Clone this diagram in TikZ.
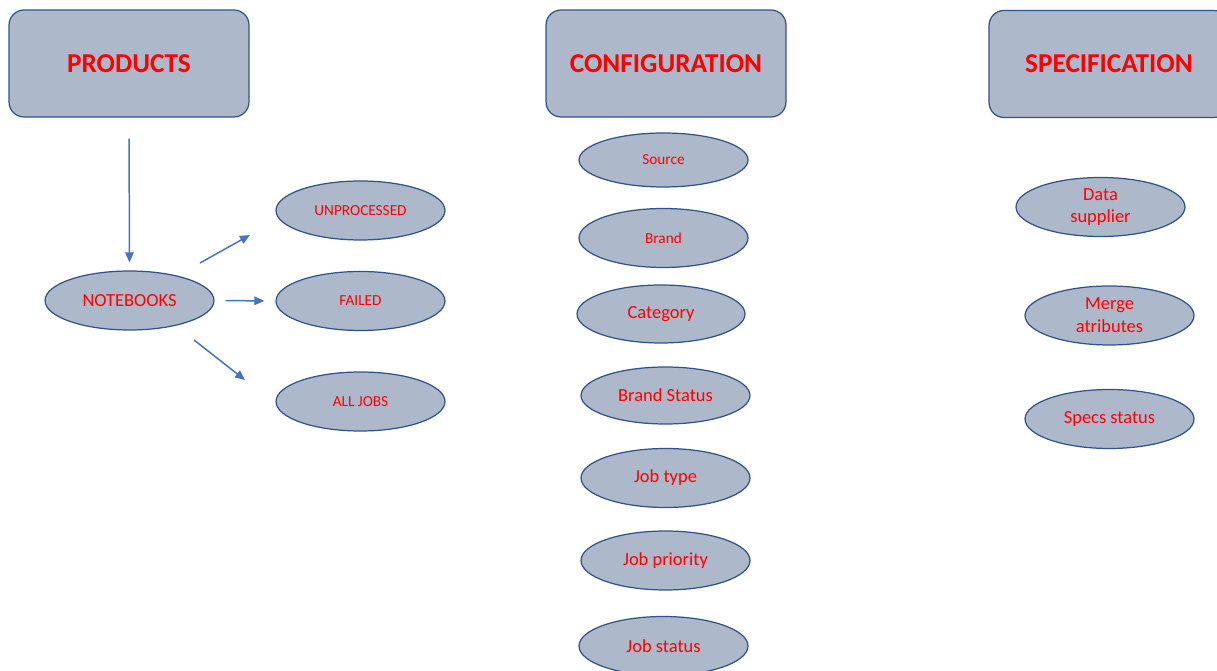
\documentclass[tikz,border=0pt]{standalone}
\usepackage{fontspec}
\setmainfont{Carlito}
\usetikzlibrary{arrows.meta,shapes.geometric}
\usepackage{xcolor}
\definecolor{shapefill}{RGB}{173,185,202}
\definecolor{shapeline}{RGB}{47,82,143}
\definecolor{arrowblue}{RGB}{68,114,196}

\begin{document}
\begin{tikzpicture}[x=0.02cm,y=-0.02cm,
	headbox/.style={draw=shapeline,fill=shapefill,line width=0.7pt,rounded corners=0.3cm,minimum width=4.8cm,minimum height=2.14cm,inner sep=0pt,text=red,font=\fontsize{15.5}{18}\selectfont\bfseries},
	bigoval/.style={ellipse,draw=shapeline,fill=shapefill,line width=0.7pt,minimum width=3.38cm,minimum height=1.18cm,inner sep=0pt,text=red,font=\fontsize{10.5}{13}\selectfont,align=center},
	smalloval/.style={bigoval,font=\fontsize{8.7}{10}\selectfont},
	flow/.style={-{Triangle[length=0.2cm,width=0.17cm]},arrowblue,line width=0.85pt}]
	\useasboundingbox (0,0) rectangle (1217,671);
	\clip (0,0) rectangle (1217,671);
	\fill[white] (0,0) rectangle (1217,671);

	% headers
	\node(products) at (129,63.5)[headbox]{PRODUCTS};
	\node(config) at (666,63.5)[headbox]{CONFIGURATION};
	\node(spec) at (1109,64)[headbox]{SPECIFICATION};

	% products branch
	\node(notebooks) at (129.5,300.5)[bigoval]{NOTEBOOKS};
	\node(unprocessed) at (360.5,210.5)[smalloval]{UNPROCESSED};
	\node(failed) at (360.5,301)[smalloval]{FAILED};
	\node(alljobs) at (360.5,401.5)[smalloval]{ALL JOBS};

	\coordinate(u1) at (200,263);
	\coordinate(u2) at (250,235);
	\coordinate(a1) at (194,340);
	\coordinate(a2) at (245,380);

	\draw[flow,shorten <=0.42cm,shorten >=0.16cm](products.south) -- (notebooks.north);
	\draw[flow](u1) -- (u2);
	\draw[flow,shorten <=0.22cm,shorten >=0.22cm](notebooks.east) -- (failed.west);
	\draw[flow](a1) -- (a2);

	% configuration
	\node(source) at (663.5,160)[smalloval,minimum height=1.08cm]{Source};
	\node(brand) at (663.5,238)[smalloval]{Brand};
	\node(category) at (661,314)[bigoval,minimum width=3.36cm,minimum height=1.16cm]{Category};
	\node(brandstatus) at (665.5,395.5)[bigoval,minimum height=1.14cm]{Brand Status};
	\node(jobtype) at (665.5,478)[bigoval]{Job type};
	\node(jobpriority) at (665.5,560.5)[bigoval]{Job priority};
	\node(jobstatus) at (663.5,646)[bigoval]{Job status};

	% specification
	\node(datasupplier) at (1100.5,207)[bigoval]{Data\\supplier};
	\node(merge) at (1109.5,315.5)[bigoval]{Merge\\atributes};
	\node(specsstatus) at (1109.5,419)[bigoval]{Specs status};
\end{tikzpicture}
\end{document}
